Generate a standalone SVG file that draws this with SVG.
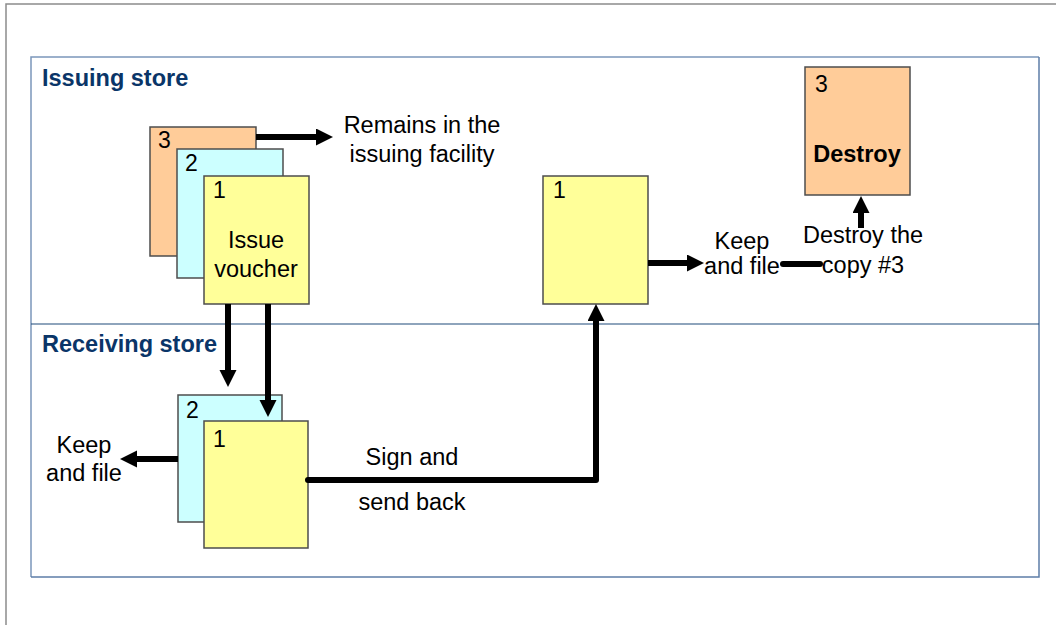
<svg xmlns="http://www.w3.org/2000/svg" width="1056" height="625" viewBox="0 0 1056 625">
<defs>
<marker id="ah" markerUnits="userSpaceOnUse" markerWidth="18" markerHeight="18" refX="7" refY="8.5" orient="auto">
<path d="M0,0 L17,8.5 L0,17 z" fill="#000"/>
</marker>
<style>
.t{font-family:"Liberation Sans",Arial,sans-serif;font-size:23.5px;fill:#000}
.n{font-family:"Liberation Sans",Arial,sans-serif;font-size:23px;fill:#000}
.h{font-family:"Liberation Sans",Arial,sans-serif;font-size:23.5px;font-weight:bold;fill:#0a3568}
.c{text-anchor:middle}
.b{font-weight:bold}
.doc{stroke:#4d4d4d;stroke-width:1.5}
.y{fill:#FFFF99}.o{fill:#FFCC99}.cy{fill:#CCFFFF}
.a{stroke:#000;stroke-width:6;fill:none;marker-end:url(#ah)}
.l{stroke:#000;stroke-width:6;fill:none}
</style>
</defs>
<rect width="1056" height="625" fill="#fff"/>
<path d="M6,625 L6,4 L1056,4" fill="none" stroke="#8c8c8c" stroke-width="1.5"/>
<g id="frame">
<path d="M31,577 L31,57 L1039,57" fill="none" stroke="#7b96ba" stroke-width="1.5"/>
<path d="M1039,57 L1039,577 L31,577" fill="none" stroke="#5d7ea8" stroke-width="1.5"/>
<line x1="31" y1="324" x2="1039" y2="324" stroke="#1f4a7a" stroke-width="1.2"/>
<text class="h" x="42" y="86">Issuing store</text>
<text class="h" x="42" y="352">Receiving store</text>
</g>
<g id="issue-copy3">
<rect class="doc o" x="150" y="127" width="106" height="129"/>
<text class="n" x="158" y="148">3</text>
</g>
<g id="issue-copy2">
<rect class="doc cy" x="177" y="149" width="106" height="129"/>
<text class="n" x="185" y="171">2</text>
</g>
<g id="issue-copy1">
<rect class="doc y" x="204" y="176" width="105" height="128"/>
<text class="n" x="213" y="198">1</text>
<text class="t c" x="256" y="248">Issue</text>
<text class="t c" x="256" y="277">voucher</text>
</g>
<g id="remains-label">
<text class="t c" x="422" y="133">Remains in the</text>
<text class="t c" x="422" y="162">issuing facility</text>
</g>
<g id="recv-copy2">
<rect class="doc cy" x="178" y="395" width="104" height="127"/>
<text class="n" x="186" y="418">2</text>
</g>
<g id="recv-copy1">
<rect class="doc y" x="204" y="421" width="104" height="127"/>
<text class="n" x="213" y="447">1</text>
</g>
<g id="recv-keep">
<text class="t c" x="84" y="453">Keep</text>
<text class="t c" x="84" y="481">and file</text>
</g>
<g id="sign-label">
<text class="t c" x="412" y="465">Sign and</text>
<text class="t c" x="412" y="510">send back</text>
</g>
<g id="returned-copy1">
<rect class="doc y" x="543" y="176" width="105" height="128"/>
<text class="n" x="553" y="198">1</text>
</g>
<g id="issue-keep">
<text class="t c" x="742" y="249">Keep</text>
<text class="t c" x="742" y="274">and file</text>
</g>
<g id="destroy-label">
<text class="t c" x="863" y="243">Destroy the</text>
<text class="t c" x="863" y="273">copy #3</text>
</g>
<g id="destroy-copy3">
<rect class="doc o" x="805" y="67" width="105" height="128"/>
<text class="n" x="815" y="92">3</text>
<text class="t c b" x="857" y="162">Destroy</text>
</g>
<g id="connectors">
<line class="a" x1="256" y1="137" x2="323" y2="137"/>
<line class="a" x1="228" y1="304" x2="228" y2="377"/>
<line class="a" x1="268" y1="304" x2="268" y2="407"/>
<line class="a" x1="178" y1="459" x2="130" y2="459"/>
<polyline class="a" points="308,480 596,480 596,314" stroke-linecap="round" stroke-linejoin="round"/>
<line class="a" x1="648" y1="263" x2="694" y2="263"/>
<line class="l" x1="783" y1="264" x2="820" y2="264" stroke-linecap="round"/>
<line class="a" x1="861" y1="228" x2="861" y2="206"/>
</g>
</svg>
